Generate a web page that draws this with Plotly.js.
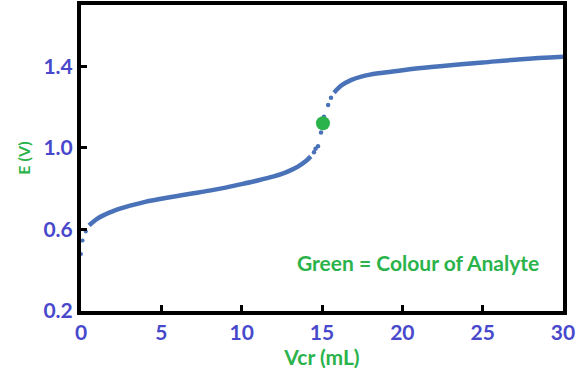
<!DOCTYPE html>
<html>
<head>
<meta charset="utf-8">
<script src="https://cdn.plot.ly/plotly-3.0.1.min.js"></script>
<style>html,body{margin:0;padding:0;background:#fff;}#chart{width:584px;height:379px;}</style>
</head>
<body>
<div id="chart"></div>
<script>
// Titration curve
const startV = [0.0, 0.1, 0.3];
const startE = [0.48, 0.545, 0.59];

const lowV = [0.5, 1, 1.5, 2, 3, 4, 5, 6, 7, 8, 9, 10, 11, 12, 12.5, 13, 13.5, 14, 14.3];
const lowE = [0.62, 0.652, 0.673, 0.69, 0.715, 0.735, 0.75, 0.764, 0.777, 0.79, 0.805, 0.822, 0.84, 0.86, 0.872, 0.888, 0.908, 0.935, 0.958];

const jumpV = [14.5, 14.6, 14.75, 14.94, 15.12, 15.38, 15.56];
const jumpE = [0.978, 0.995, 1.007, 1.075, 1.152, 1.21, 1.245];

const highV = [15.75, 16.2, 16.8, 17.5, 18.5, 20, 21, 23, 25, 27.4, 30];
const highE = [1.27, 1.305, 1.332, 1.35, 1.365, 1.38, 1.39, 1.405, 1.418, 1.434, 1.446];

const analyteV = [15.06];
const analyteE = [1.12];

const xTicks = [0, 5, 10, 15, 20, 25, 30];
const yTicks = [0.2, 0.6, 1.0, 1.4];

const blue = '#4a72b8';
const green = '#2bb34b';
const labelBlue = '#4848cc';

const traces = [
  {x: startV, y: startE, mode: 'markers', marker: {color: blue, size: 4}, hoverinfo: 'none'},
  {x: lowV, y: lowE, mode: 'lines', line: {color: blue, width: 4.5, shape: 'spline'}, hoverinfo: 'none'},
  {x: jumpV, y: jumpE, mode: 'markers', marker: {color: blue, size: 4.5}, hoverinfo: 'none'},
  {x: highV, y: highE, mode: 'lines', line: {color: blue, width: 4.5, shape: 'spline'}, hoverinfo: 'none'},
  {x: analyteV, y: analyteE, mode: 'markers', marker: {color: green, size: 14}, hoverinfo: 'none'}
];

const layout = {
  width: 584, height: 379,
  margin: {l: 81, r: 21, t: 5, b: 68},
  paper_bgcolor: '#fff', plot_bgcolor: '#fff',
  showlegend: false,
  font: {family: 'Lato, sans-serif'},
  xaxis: {
    range: [0, 30], tickvals: xTicks, ticktext: xTicks.map(String),
    showgrid: false, zeroline: false,
    showline: true, mirror: true, linecolor: '#000', linewidth: 4,
    ticks: 'inside', ticklen: 6, tickwidth: 3, tickcolor: '#000',
    tickfont: {family: 'Lato, sans-serif', size: 21, color: labelBlue, weight: 'bold'},
    title: {text: 'Vcr (mL)', font: {family: 'Lato, sans-serif', size: 21, color: green, weight: 'bold'}, standoff: 8}
  },
  yaxis: {
    range: [0.2, 1.7], tickvals: yTicks, ticktext: yTicks.map(v => v.toFixed(1)),
    showgrid: false, zeroline: false,
    showline: true, mirror: true, linecolor: '#000', linewidth: 4,
    ticks: 'inside', ticklen: 6, tickwidth: 3, tickcolor: '#000',
    tickfont: {family: 'Lato, sans-serif', size: 21, color: labelBlue, weight: 'bold'},
    title: {text: 'E (V)', font: {family: 'Lato, sans-serif', size: 16, color: green, weight: 'bold'}, standoff: 10}
  },
  annotations: [{
    text: 'Green = Colour of Analyte', x: 21.0, y: 0.44, xref: 'x', yref: 'y',
    showarrow: false, font: {family: 'Lato, sans-serif', size: 21, color: green, weight: 'bold'}
  }]
};

Plotly.newPlot('chart', traces, layout, {displayModeBar: false, staticPlot: true});
</script>
</body>
</html>
